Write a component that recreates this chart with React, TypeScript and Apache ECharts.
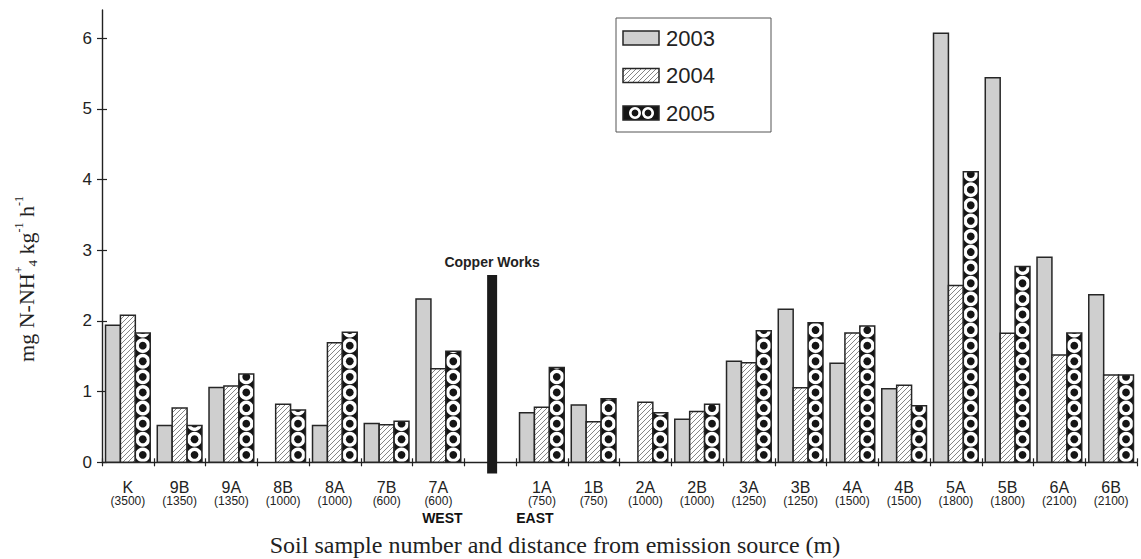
import React, { useEffect, useRef } from 'react';
import * as echarts from 'echarts';

// ---------------- data ----------------
const categories = ['K', '9B', '9A', '8B', '8A', '7B', '7A', '', '1A', '1B', '2A', '2B', '3A', '3B', '4A', '4B', '5A', '5B', '6A', '6B'];
const distances = ['3500', '1350', '1350', '1000', '1000', '600', '600', '', '750', '750', '1000', '1000', '1250', '1250', '1500', '1500', '1800', '1800', '2100', '2100'];
const sideLabels: Record<string, string> = { '7A': 'WEST', '1A': 'EAST' };
const years = ['2003', '2004', '2005'];
const values2003 = [1.94, 0.52, 1.06, null, 0.52, 0.55, 2.31, null, 0.70, 0.81, null, 0.61, 1.43, 2.165, 1.40, 1.04, 6.07, 5.44, 2.90, 2.37];
const values2004 = [2.08, 0.77, 1.08, 0.82, 1.69, 0.53, 1.325, null, 0.78, 0.575, 0.85, 0.72, 1.41, 1.055, 1.83, 1.09, 2.50, 1.825, 1.52, 1.235];
const values2005 = [1.83, 0.52, 1.25, 0.74, 1.84, 0.58, 1.57, null, 1.34, 0.90, 0.70, 0.82, 1.86, 1.975, 1.93, 0.80, 4.11, 2.77, 1.83, 1.235];
const copperWorksLabel = 'Copper Works';
const copperWorksIndex = 7;
const copperWorksTop = 2.65;
const copperWorksBottom = -0.16;
const yTickValues = [0, 1, 2, 3, 4, 5, 6];
const yMax = 6.4;
const xTitle = 'Soil sample number and distance from emission source (m)';

// ---------------- styles ----------------
const SANS = '"Liberation Sans", Arial, sans-serif';
const SERIF = '"Liberation Serif", "Times New Roman", serif';
const BORDER = '#262626';
const GRAY = '#cfcfcf';
const HATCH = '#666666';
const DARK = '#151515';
const BAR_FRAC = 0.288;
const HATCH_STEP = 5;
const DOT_PERIOD = 15.6;
const DOT_R = 3.9;

function hatchLines(xL: number, yT: number, xR: number, yB: number, s: number, stroke: string, lw: number) {
  const out: any[] = [];
  const cStart = Math.ceil((xL + yT) / s) * s;
  for (let c = cStart; c <= xR + yB; c += s) {
    const lo = Math.max(xL, c - yB);
    const hi = Math.min(xR, c - yT);
    if (hi - lo > 0.3) {
      out.push({ type: 'line', silent: true, shape: { x1: lo, y1: c - lo, x2: hi, y2: c - hi }, style: { stroke, lineWidth: lw } });
    }
  }
  return out;
}

function disc(cx: number, cy: number, r: number, yT: number, fill: string) {
  if (cy - r >= yT) return { type: 'circle', silent: true, shape: { cx, cy, r }, style: { fill } };
  const pts: number[][] = [];
  for (let i = 0; i < 48; i++) {
    const a = (i / 48) * Math.PI * 2;
    pts.push([cx + r * Math.cos(a), Math.max(yT, cy + r * Math.sin(a))]);
  }
  return { type: 'polygon', silent: true, shape: { points: pts }, style: { fill } };
}

function dotColumn(cx: number, yT: number, yB: number, r: number, period: number, rd: number) {
  const out: any[] = [];
  for (let k = 0; k < 200; k++) {
    const cy = yB - r - k * period;
    if (cy + r <= yT) break;
    out.push(disc(cx, cy, r, yT, '#ffffff'));
    if (cy + rd > yT) out.push(disc(cx, cy, rd, yT, DARK));
  }
  return out;
}

function makeRender(slot: number, kind: 'solid' | 'hatch' | 'dots') {
  return (params: any, api: any) => {
    const cat = api.value(0);
    const v = api.value(1);
    if (v == null || isNaN(v) || v <= 0) return null;
    const band = api.size([1, 0])[0];
    const bw = band * BAR_FRAC;
    const base = api.coord([cat, 0]);
    const top = api.coord([cat, v]);
    const x = base[0] + (slot - 1.5) * bw;
    const yT = top[1];
    const yB = base[1];
    const shape = { x, y: yT, width: bw, height: yB - yT };
    const children: any[] = [];
    if (kind === 'solid') {
      children.push({ type: 'rect', shape, style: { fill: GRAY, stroke: BORDER, lineWidth: 1.5 } });
    } else if (kind === 'hatch') {
      children.push({ type: 'rect', shape, style: { fill: '#ffffff' } });
      children.push(...hatchLines(x, yT, x + bw, yB, HATCH_STEP, HATCH, 0.8));
      children.push({ type: 'rect', shape, style: { fill: 'none', stroke: BORDER, lineWidth: 1.5 } });
    } else {
      children.push({ type: 'rect', shape, style: { fill: DARK } });
      children.push(...dotColumn(x + bw / 2, yT, yB, bw / 2, DOT_PERIOD, DOT_R));
      children.push({ type: 'rect', shape, style: { fill: 'none', stroke: BORDER, lineWidth: 1.5 } });
    }
    return { type: 'group', children };
  };
}

function toData(vals: (number | null)[]) {
  return vals.map((v, i) => (v == null ? null : [i, v])).filter((d) => d !== null);
}

function legendGraphics() {
  const els: any[] = [];
  els.push({ type: 'rect', shape: { x: 616, y: 18, width: 155, height: 114 }, style: { fill: '#fff', stroke: '#555', lineWidth: 1 }, z: 10 });
  const ix = 623, iw = 36, ih = 14;
  const rows = [38, 75.5, 113];
  els.push({ type: 'rect', shape: { x: ix, y: rows[0] - ih / 2, width: iw, height: ih }, style: { fill: GRAY, stroke: BORDER, lineWidth: 1.5 }, z: 11 });
  els.push({ type: 'rect', shape: { x: ix, y: rows[1] - ih / 2, width: iw, height: ih }, style: { fill: '#fff' }, z: 11 });
  hatchLines(ix, rows[1] - ih / 2, ix + iw, rows[1] + ih / 2, HATCH_STEP, HATCH, 0.8).forEach((l) => els.push({ ...l, z: 11 }));
  els.push({ type: 'rect', shape: { x: ix, y: rows[1] - ih / 2, width: iw, height: ih }, style: { fill: 'none', stroke: BORDER, lineWidth: 1.5 }, z: 11 });
  els.push({ type: 'rect', shape: { x: ix, y: rows[2] - ih / 2, width: iw, height: ih }, style: { fill: DARK, stroke: BORDER, lineWidth: 1.5 }, z: 11 });
  [ix + 12, ix + 25].forEach((cx) => {
    els.push({ type: 'circle', shape: { cx, cy: rows[2], r: 6 }, style: { fill: '#fff' }, z: 12 });
    els.push({ type: 'circle', shape: { cx, cy: rows[2], r: 3.4 }, style: { fill: DARK }, z: 13 });
  });
  years.forEach((y, i) => {
    els.push({ type: 'text', x: 666, y: rows[i], style: { text: y, font: `22px ${SANS}`, fill: '#222', align: 'left', verticalAlign: 'middle' }, z: 12 });
  });
  return els;
}

export default function App() {
  const ref = useRef<HTMLDivElement>(null);
  useEffect(() => {
    if (!ref.current) return;
    const chart = echarts.init(ref.current, undefined, { renderer: 'svg' });
    const labelRich = {
      c: { fontFamily: SANS, fontSize: 16, lineHeight: 16, color: '#222' },
      d: { fontFamily: SANS, fontSize: 12, lineHeight: 11, color: '#222' },
      w: { fontFamily: SANS, fontSize: 14, fontWeight: 'bold', lineHeight: 24, color: '#111', padding: [0, 0, 0, 8] },
      e: { fontFamily: SANS, fontSize: 14, fontWeight: 'bold', lineHeight: 24, color: '#111', padding: [0, 14, 0, 0] },
    };
    const option: any = {
      animation: false,
      backgroundColor: '#ffffff',
      grid: { left: 102, right: 4, top: 10, bottom: 96.7, containLabel: false, outerBoundsMode: 'none' },
      xAxis: [
        {
          type: 'category',
          data: categories,
          position: 'bottom',
          boundaryGap: true,
          axisLine: { show: true, lineStyle: { color: '#222', width: 1.4 } },
          axisTick: { show: true, inside: false, length: 4, lineStyle: { color: '#222', width: 1.2 } },
          axisLabel: {
            interval: 0,
            margin: 17,
            formatter: (value: string, index: number) => {
              if (!value) return '';
              let s = `{c|${value}}\n{d|(${distances[index]})}`;
              if (sideLabels[value]) s += `\n{${value === '7A' ? 'w' : 'e'}|${sideLabels[value]}}`;
              return s;
            },
            rich: labelRich,
          },
          splitLine: { show: false },
        },
        {
          type: 'category',
          data: categories,
          position: 'bottom',
          boundaryGap: true,
          axisLine: { show: false },
          axisTick: { show: true, inside: true, length: 4, lineStyle: { color: '#222', width: 1.2 } },
          axisLabel: { show: false },
          splitLine: { show: false },
        },
      ],
      yAxis: [
        {
          type: 'value',
          min: 0,
          max: yMax,
          interval: 1,
          position: 'left',
          axisLine: { show: true, lineStyle: { color: '#222', width: 1.4 } },
          axisTick: { show: true, inside: false, length: 5, customValues: yTickValues, lineStyle: { color: '#222', width: 1.2 } },
          axisLabel: { show: true, margin: 10, customValues: yTickValues, fontFamily: SANS, fontSize: 17, color: '#222' },
          splitLine: { show: false },
        },
        {
          type: 'value',
          min: 0,
          max: yMax,
          interval: 1,
          position: 'left',
          axisLine: { show: false },
          axisTick: { show: true, inside: true, length: 5, customValues: yTickValues, lineStyle: { color: '#222', width: 1.2 } },
          axisLabel: { show: false },
          splitLine: { show: false },
        },
      ],
      series: [
        { type: 'custom', name: years[0], renderItem: makeRender(0, 'solid'), data: toData(values2003), encode: { x: 0, y: 1 }, z: 3 },
        { type: 'custom', name: years[1], renderItem: makeRender(1, 'hatch'), data: toData(values2004), encode: { x: 0, y: 1 }, z: 3 },
        { type: 'custom', name: years[2], renderItem: makeRender(2, 'dots'), data: toData(values2005), encode: { x: 0, y: 1 }, z: 3 },
        {
          type: 'custom',
          name: copperWorksLabel,
          z: 4,
          data: [[copperWorksIndex, copperWorksTop, copperWorksBottom]],
          encode: { x: 0, y: 1 },
          renderItem: (params: any, api: any) => {
            const cat = api.value(0);
            const topP = api.coord([cat, api.value(1)]);
            const botP = api.coord([cat, api.value(2)]);
            const cx = topP[0] + 2;
            const w = 10;
            return {
              type: 'group',
              children: [
                { type: 'rect', shape: { x: cx - w / 2, y: topP[1], width: w, height: botP[1] - topP[1] }, style: { fill: '#1a1a1a' } },
                { type: 'text', x: cx, y: topP[1] - 13, style: { text: copperWorksLabel, font: `bold 14px ${SANS}`, fill: '#222', align: 'center', verticalAlign: 'middle' } },
              ],
            };
          },
        },
      ],
      graphic: [
        ...legendGraphics(),
        {
          type: 'text',
          x: 555,
          y: 545,
          style: { text: xTitle, font: `24px ${SERIF}`, fill: '#222', align: 'center', verticalAlign: 'middle' },
        },
        {
          type: 'text',
          x: 26,
          y: 279,
          rotation: Math.PI / 2,
          style: {
            text: '{m|mg N-NH}{p|+}{s|4}{m| kg}{p|-1}{m| h}{p|-1}',
            align: 'center',
            verticalAlign: 'middle',
            rich: {
              m: { fontFamily: SERIF, fontSize: 22, lineHeight: 26, fill: '#222' },
              p: { fontFamily: SERIF, fontSize: 12, lineHeight: 12, verticalAlign: 'top', fill: '#222' },
              s: { fontFamily: SERIF, fontSize: 13, lineHeight: 13, verticalAlign: 'bottom', fill: '#222' },
            },
          },
        },
      ],
    };
    chart.setOption(option);
    return () => chart.dispose();
  }, []);
  return <div ref={ref} style={{ position: 'absolute', left: 0, top: 0, width: 1141, height: 559 }} />;
}
